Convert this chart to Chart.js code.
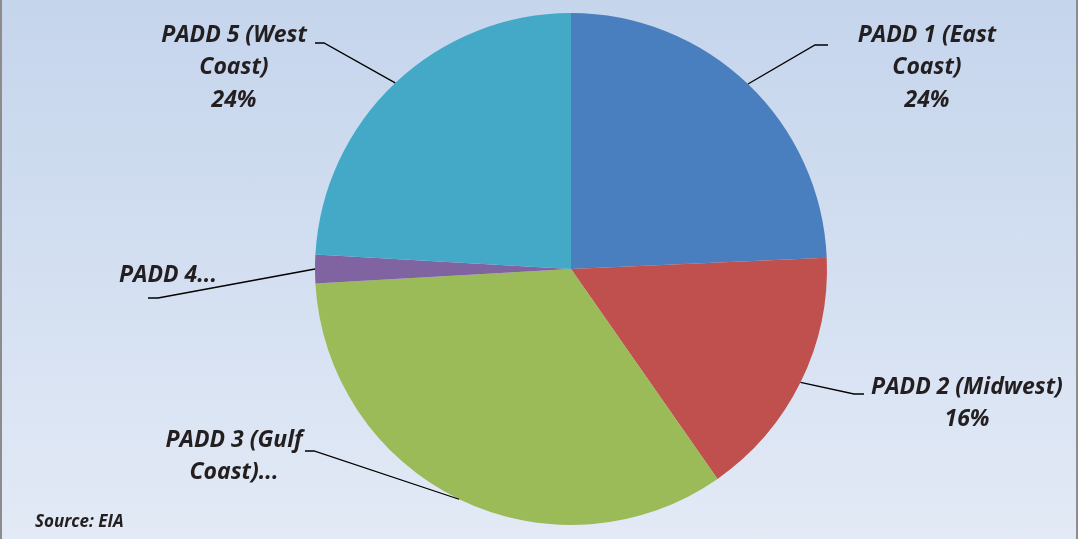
<!DOCTYPE html>
<html>
<head>
<meta charset="utf-8">
<script src="https://cdn.jsdelivr.net/npm/chart.js@4"></script>
<style>
    html, body { margin: 0; padding: 0; }
    #wrap {
        position: relative;
        width: 1078px;
        height: 539px;
        background: linear-gradient(to bottom, #c5d5ec 0%, #d3dff1 50%, #e3eaf6 100%);
        border-left: 2px solid #8c8c8c;
        border-right: 2px solid #8c8c8c;
        box-sizing: border-box;
    }
</style>
</head>
<body>
<div id="wrap"><canvas id="myChart" width="1074" height="539"></canvas></div>
<script>
// share of refining capacity by PADD region
const categories = ['PADD 1 (East Coast)', 'PADD 2 (Midwest)', 'PADD 3 (Gulf Coast)', 'PADD 4 (Rocky Mountain)', 'PADD 5 (West Coast)'];
const shares = [24.3, 16.0, 33.8, 1.8, 24.1];
const sliceColors = ['#4a7fbf', '#c0504d', '#9bbb59', '#8064a2', '#44a9c6'];
// how Excel showed each label (some got cut off)
const labelLines = [
    ['PADD 1 (East', 'Coast)', '%'],
    ['PADD 2 (Midwest)', '%'],
    ['PADD 3 (Gulf', 'Coast)...'],
    ['PADD 4...'],
    ['PADD 5 (West', 'Coast)', '%']
];

// label placement: text center x, first line y, elbow of leader line, end of leader line
const labelPos = [
    { x: 925, y: 35, elbow: [813, 45], end: [826, 45] },
    { x: 965, y: 387, elbow: [852, 394], end: [862, 394] },
    { x: 232, y: 440, elbow: [312, 451], end: [303, 451] },
    { x: 166, y: 275, elbow: [156, 298], end: [146, 298] },
    { x: 232, y: 35, elbow: [322, 43], end: [313, 43] }
];

const total = shares.reduce((a, b) => a + b, 0);

const calloutPlugin = {
    id: 'callouts',
    afterDatasetsDraw(chart) {
        const ctx = chart.ctx;
        const arcs = chart.getDatasetMeta(0).data;
        ctx.save();
        arcs.forEach(function (arc, i) {
            const p = arc.getProps(['x', 'y', 'startAngle', 'endAngle', 'outerRadius'], true);
            const mid = (p.startAngle + p.endAngle) / 2;
            const sx = p.x + Math.cos(mid) * p.outerRadius;
            const sy = p.y + Math.sin(mid) * p.outerRadius;
            const pos = labelPos[i];
            // leader line
            ctx.strokeStyle = '#000000';
            ctx.lineWidth = 1.3;
            ctx.beginPath();
            ctx.moveTo(sx, sy);
            ctx.lineTo(pos.elbow[0], pos.elbow[1]);
            ctx.lineTo(pos.end[0], pos.end[1]);
            ctx.stroke();
            // text
            ctx.fillStyle = '#231f20';
            ctx.font = 'italic bold 23px "Open Sans"';
            ctx.textAlign = 'center';
            ctx.textBaseline = 'middle';
            labelLines[i].forEach(function (line, k) {
                let txt = line;
                if (line === '%') txt = Math.round(shares[i] / total * 100) + '%';
                ctx.fillText(txt, pos.x, pos.y + k * 32.5);
            });
        });
        // source note
        ctx.font = 'italic bold 17px "Open Sans"';
        ctx.textAlign = 'left';
        ctx.fillText('Source: EIA', 33, 522);
        ctx.restore();
    }
};

const ctx = document.getElementById('myChart').getContext('2d');
const myChart = new Chart(ctx, {
    type: 'pie',
    data: {
        labels: categories,
        datasets: [{
            data: shares,
            backgroundColor: sliceColors,
            borderWidth: 0
        }]
    },
    options: {
        responsive: false,
        animation: false,
        layout: {
            padding: { top: 13, bottom: 14, left: 200, right: 136 }
        },
        plugins: {
            legend: { display: false },
            tooltip: { enabled: false }
        }
    },
    plugins: [calloutPlugin]
});
</script>
</body>
</html>
